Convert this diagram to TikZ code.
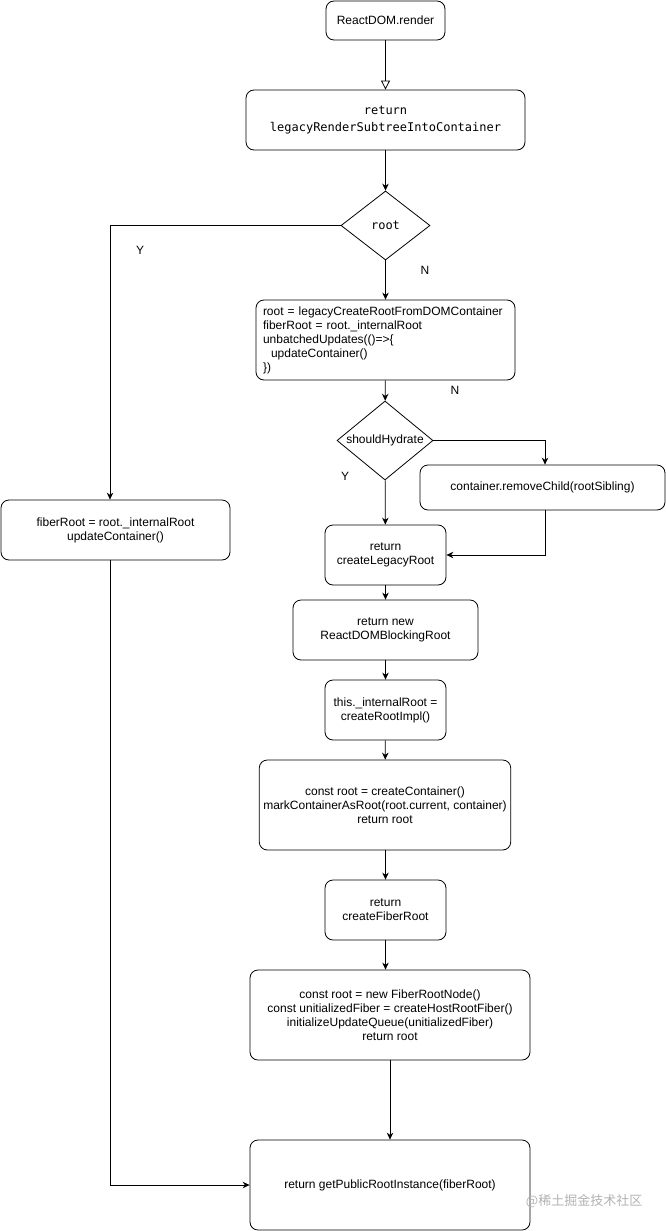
\documentclass[tikz,border=0pt]{standalone}
\usepackage{fontspec}
\setmainfont{Liberation Sans}
\setmonofont{DejaVu Sans Mono}
\newfontfamily\cjkfont{Noto Sans CJK SC}
\usepackage{tikz}
\usetikzlibrary{positioning}
\usetikzlibrary{arrows.meta}
\usetikzlibrary{shapes.geometric}

\begin{document}
\begin{tikzpicture}[x=1pt, y=-1pt, line width=0.8pt,
  >={Stealth[length=7pt,width=6.5pt]},
  box/.style={draw, rounded corners=8pt, align=center, inner sep=4pt, font=\fontsize{12}{14}\selectfont},
  cond/.style={draw, diamond, inner sep=0pt, font=\fontsize{12}{14}\selectfont},
  lbl/.style={font=\fontsize{12}{14}\selectfont}]
  \useasboundingbox (0,0) rectangle (666,1231);

  % main chain
  \node[box, minimum width=119pt, minimum height=39pt] (render) at (385.5,20.5) {ReactDOM.render};
  \node[box, minimum width=279pt, minimum height=60pt, font=\ttfamily\fontsize{12}{17.5}\selectfont] (legacy) at (385.5,120) {return\\legacyRenderSubtreeIntoContainer};
  \node[cond, minimum width=89pt, minimum height=69pt, font=\ttfamily\fontsize{12}{14}\selectfont] (root) at (385.5,225.5) {root};
  \node[box, minimum width=259pt, minimum height=80pt, text width=245pt, inner xsep=7pt, align=left] (create) at (385.5,340)
    {root = legacyCreateRootFromDOMContainer\\fiberRoot = root.\_internalRoot\\unbatchedUpdates(()=>\{\\\ \ updateContainer()\\\})};
  \node[cond, minimum width=96pt, minimum height=79pt, shape aspect=1.22] (hydrate) at (385,440.5) {shouldHydrate};
  \node[box, minimum width=245pt, minimum height=45pt] (remove) at (542.5,487.5) {container.removeChild(rootSibling)};
  \node[box, minimum width=121pt, minimum height=60pt] (legroot) at (385.5,555) {return\\createLegacyRoot};
  \node[box, minimum width=185pt, minimum height=60pt] (blocking) at (385.5,630) {return new\\ReactDOMBlockingRoot};
  \node[box, minimum width=121pt, minimum height=60pt] (impl) at (385.5,710) {this.\_internalRoot =\\createRootImpl()};
  \node[box, minimum width=250pt, minimum height=90pt] (container) at (385,805) {const root = createContainer()\\markContainerAsRoot(root.current, container)\\return root};
  \node[box, minimum width=121pt, minimum height=60pt] (fiber) at (385.5,910) {return\\createFiberRoot};
  \node[box, minimum width=280pt, minimum height=90pt] (rootnode) at (390,1015) {const root = new FiberRootNode()\\const unitializedFiber = createHostRootFiber()\\initializeUpdateQueue(unitializedFiber)\\return root};
  \node[box, minimum width=280pt, minimum height=90pt] (public) at (390,1185) {return getPublicRootInstance(fiberRoot)};

  % left branch
  \node[box, minimum width=229pt, minimum height=60pt] (update) at (115.5,530) {fiberRoot = root.\_internalRoot\\updateContainer()};

  \draw[-{Triangle[open,length=9pt,width=9pt]}] (render) -- (legacy);
  \draw[->] (legacy) -- (root);
  \draw[->] (root) -- (create);
  \draw[->] (create) -- (hydrate);
  \draw[->] (hydrate.east) -| ([xshift=2.5pt]remove.north);
  \draw[->] ([xshift=2.5pt]remove.south) |- (legroot.east);
  \draw[->] (hydrate) -- (legroot);
  \draw[->] (legroot) -- (blocking);
  \draw[->] (blocking) -- (impl);
  \draw[->] (impl) -- (container);
  \draw[->] ([xshift=0.5pt]container.south) -- ([xshift=0.5pt]container.south |- fiber.north);
  \draw[->] (fiber.south) -- (fiber.south |- rootnode.north);
  \draw[->] (rootnode) -- (public);
  \draw[->] (root.west) -| ([xshift=-5.5pt]update.north);
  \draw[->] ([xshift=-5.5pt]update.south) |- (public.west);

  \node[lbl] (y1) at (140,250) {Y};
  \node[lbl] (n1) at (425,270) {N};
  \node[lbl] (n2) at (455,390) {N};
  \node[lbl] (y2) at (345,476) {Y};

  \node[font=\cjkfont\fontsize{13}{14}\selectfont, text=black!30, anchor=east] (mark) at (646,1201) {@稀土掘金技术社区};
\end{tikzpicture}
\end{document}
